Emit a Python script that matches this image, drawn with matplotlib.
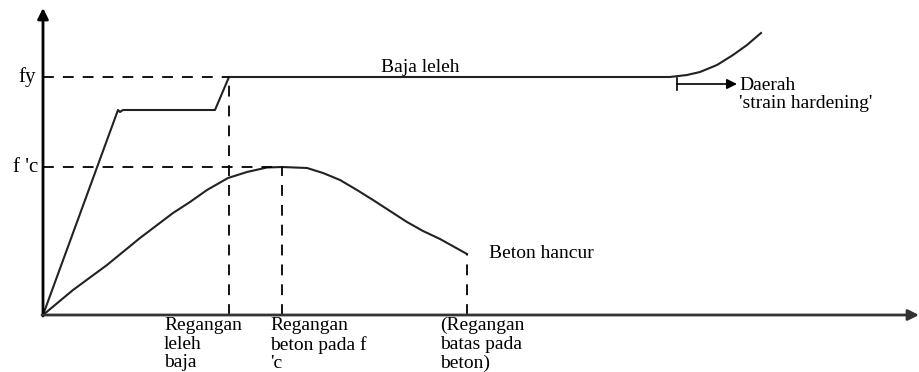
import matplotlib
matplotlib.use("Agg")
import matplotlib.pyplot as plt

# Data (strain units ~ horizontal, stress units ~ vertical; origin at axes crossing)
steel_strain = [0, 75, 77, 80, 172, 186, 627, 644, 657, 674, 690, 704, 718]
steel_stress = [0, 205, 203, 205, 205, 238, 238, 240, 243, 250, 260, 270, 282]

conc_strain = [0, 30, 64, 97, 130, 147, 164, 185, 204, 224, 239,
               264, 280, 297, 314, 330, 347, 364, 380, 397, 424]
conc_stress = [0, 25, 50, 77, 102, 113, 125, 137, 143, 147.5, 148,
               147, 142, 135, 125, 115, 104, 93, 84, 76, 61]

fy = 238
fc = 148
eps_y = 186
eps_c = 239
eps_cu = 424
conc_cu_stress = 61

y_labels = ["fy", "f 'c"]
x_labels = ["Regangan\nleleh\nbaja", "Regangan\nbeton pada f\n'c", "(Regangan\nbatas pada\nbeton)"]

plt.rcParams['font.family'] = ['Liberation Serif', 'DejaVu Serif']
FS = 14

fig = plt.figure(figsize=(9.2, 3.72), dpi=100)
ax = fig.add_axes([0, 0, 1, 1])
ax.set_xlim(-43, 877)
ax.set_ylim(-57, 315)
ax.axis('off')

# axes arrows
ax.annotate('', xy=(0, 307), xytext=(0, -1),
            arrowprops=dict(arrowstyle='-|>', lw=2, color='black', mutation_scale=16,
                            shrinkA=0, shrinkB=0))
ax.annotate('', xy=(876, 0), xytext=(-1, 0),
            arrowprops=dict(arrowstyle='-|>', lw=2, color='#333333', mutation_scale=16,
                            shrinkA=0, shrinkB=0))

# curves
ax.plot(steel_strain, steel_stress, color='#222222', lw=1.5, solid_joinstyle='round')
ax.plot(conc_strain, conc_stress, color='#222222', lw=1.5, solid_joinstyle='round')

dash = dict(color='black', lw=1.3, dashes=(6, 5))
ax.plot([0, eps_y], [fy, fy], **dash)
ax.plot([eps_y, eps_y], [0, fy], **dash)
ax.plot([0, eps_c], [fc, fc], **dash)
ax.plot([eps_c, eps_c], [0, fc], **dash)
ax.plot([eps_cu, eps_cu], [0, conc_cu_stress], **dash)

# y labels
ax.text(-7, fy, y_labels[0], ha='right', va='center', fontsize=FS + 1)
ax.text(-5, fc, y_labels[1], ha='right', va='center', fontsize=FS + 1)

# x labels
for xpos, lab in zip([121, 227, 397], x_labels):
    ax.text(xpos, -2, lab, ha='left', va='top', fontsize=FS, linespacing=1.12)

ax.text(377, 248, "Baja leleh", ha='center', va='center', fontsize=FS)
ax.text(446, 62, "Beton hancur", ha='left', va='center', fontsize=FS)

# strain hardening marker
ax.plot([634, 634], [225, 237], color='black', lw=1.2)
ax.annotate('', xy=(694, 231), xytext=(634, 231),
            arrowprops=dict(arrowstyle='-|>', lw=1.2, color='black', mutation_scale=15,
                            shrinkA=0, shrinkB=0))
ax.text(696, 230, "Daerah", ha='left', va='center', fontsize=FS)
ax.text(696, 212, "'strain hardening'", ha='left', va='center', fontsize=FS)

fig.savefig("out.png", dpi=100, facecolor='white')
